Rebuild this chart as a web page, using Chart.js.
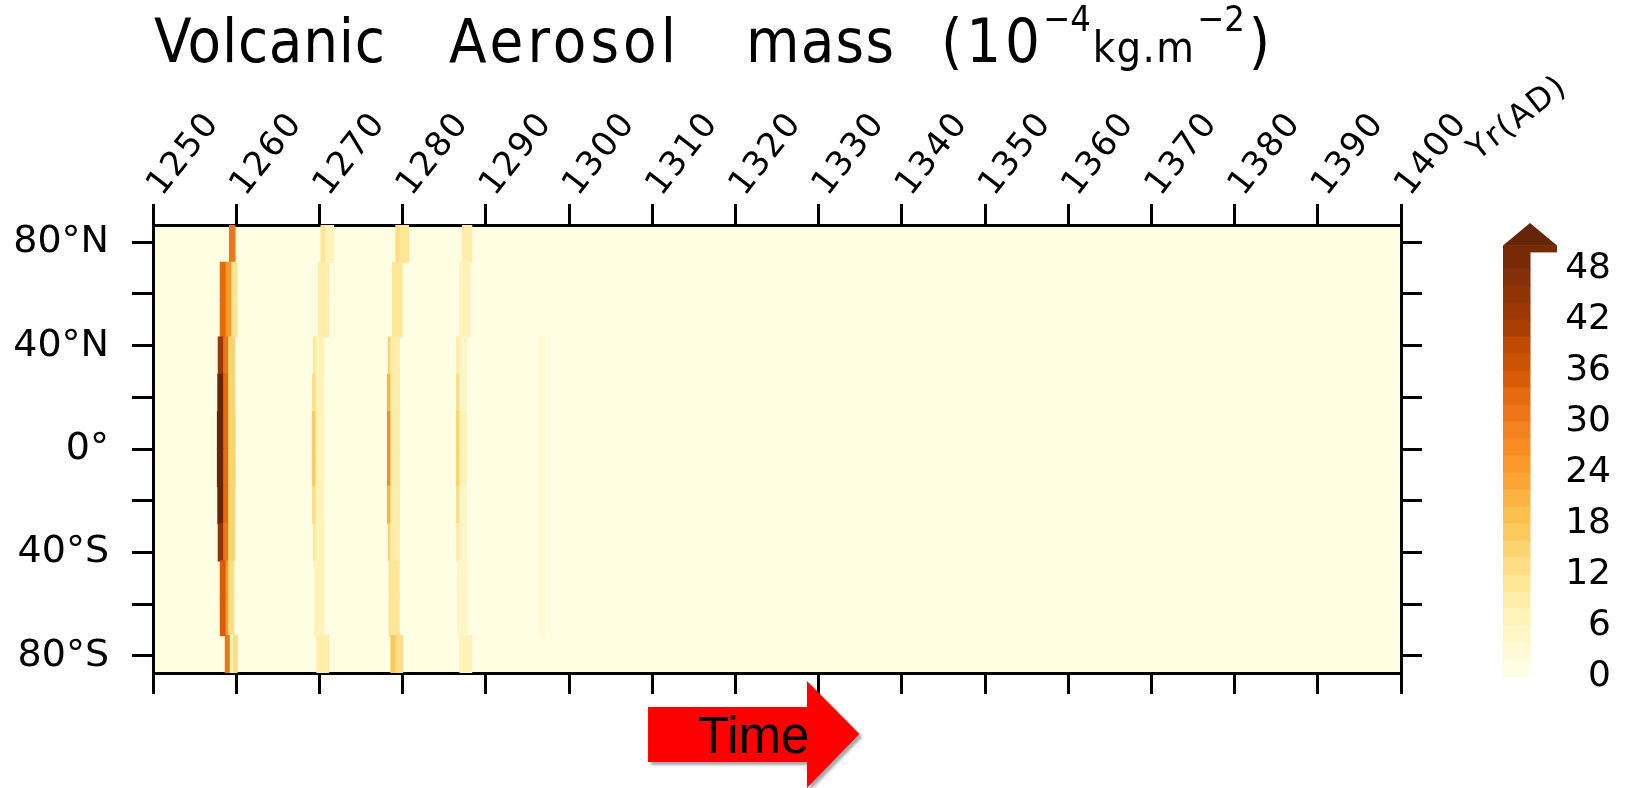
<!DOCTYPE html>
<html><head><meta charset="utf-8">
<script src="https://cdn.jsdelivr.net/npm/chart.js@4.4.1/dist/chart.umd.min.js"></script>
<style>
html,body{margin:0;padding:0;background:#fff;overflow:hidden}
#wrap{position:relative;width:1630px;height:788px}
#main{position:absolute;left:0;top:0}
#cbar{position:absolute;left:1480px;top:200px}
</style></head><body>
<div id="wrap"><canvas id="main" width="1630" height="788"></canvas><canvas id="cbar" width="150" height="500"></canvas></div>
<script>
// ---------- DATA ----------
const yearTicks = [1250,1260,1270,1280,1290,1300,1310,1320,1330,1340,1350,1360,1370,1380,1390,1400];
const yearTickLabels = ['1250','1260','1270','1280','1290','1300','1310','1320','1330','1340','1350','1360','1370','1380','1390','1400'];
const latTicks = [-80,-60,-40,-20,0,20,40,60,80];
const latTickLabels = ['80°S','','40°S','','0°','','40°N','','80°N'];
// latitude band centres (12 bands, south -> north)
const latCenters = [-79.475,-65.025,-50.575,-36.125,-21.675,-7.225,7.225,21.675,36.125,50.575,65.025,79.475];
// rows: [band index, start year, end year, aerosol mass (1e-4 kg/m2)]
const eruption1257 = [
  [11,1259.2,1259.85,30],
  [10,1258.1,1258.8,32],[10,1258.8,1259.5,24],[10,1259.5,1260.1,10],
  [9,1258.1,1258.8,32],[9,1258.8,1259.5,24],[9,1259.5,1260.1,10],
  [8,1257.85,1258.5,42],[8,1258.5,1259.1,30],[8,1259.1,1259.8,14],
  [7,1257.8,1258.5,52],[7,1258.5,1259.1,32],[7,1259.1,1259.8,14],
  [6,1257.75,1258.5,56],[6,1258.5,1259.1,32],[6,1259.1,1259.85,14],
  [5,1257.75,1258.5,56],[5,1258.5,1259.1,32],[5,1259.1,1259.85,14],
  [4,1257.8,1258.5,52],[4,1258.5,1259.1,32],[4,1259.1,1259.8,14],
  [3,1257.85,1258.5,44],[3,1258.5,1259.1,30],[3,1259.1,1259.8,14],
  [2,1258.1,1258.8,34],[2,1258.8,1259.1,24],[2,1259.1,1259.7,12],
  [1,1258.1,1258.8,34],[1,1258.8,1259.1,24],[1,1259.1,1259.7,12],
  [0,1258.7,1259.3,30],[0,1259.3,1259.7,6],[0,1259.7,1260.1,12]
];
const eruption1269 = [
  [11,1270.2,1270.8,10],[11,1270.8,1271.7,7],
  [10,1269.9,1271.1,8],[9,1269.9,1271.1,8],
  [8,1269.3,1269.6,10],[8,1269.6,1270.5,6],
  [7,1269.2,1269.6,12],[7,1269.6,1270.5,6],
  [6,1269.2,1269.6,16],[6,1269.6,1270.5,7],
  [5,1269.2,1269.6,16],[5,1269.6,1270.5,7],
  [4,1269.2,1269.6,12],[4,1269.6,1270.5,6],
  [3,1269.3,1269.6,10],[3,1269.6,1270.5,6],
  [2,1269.4,1270.5,7],[1,1269.4,1270.5,7],
  [0,1269.7,1271.1,9]
];
const eruption1278 = [
  [11,1279.2,1279.7,12],[11,1279.7,1280.7,10],
  [10,1278.8,1279.9,10],[9,1278.8,1279.9,10],
  [8,1278.3,1278.6,14],[8,1278.6,1279.6,8],
  [7,1278.2,1278.6,20],[7,1278.6,1279.6,8],
  [6,1278.2,1278.6,26],[6,1278.6,1279.6,9],
  [5,1278.2,1278.6,26],[5,1278.6,1279.6,9],
  [4,1278.2,1278.6,20],[4,1278.6,1279.6,8],
  [3,1278.3,1278.6,14],[3,1278.6,1279.6,8],
  [2,1278.4,1279.6,10],[1,1278.4,1279.6,10],
  [0,1278.6,1279.2,16],[0,1279.2,1280.0,12]
];
const eruption1286 = [
  [11,1287.2,1288.3,8],
  [10,1286.9,1288.1,6],[9,1286.9,1288.1,6],
  [8,1286.5,1286.9,9],[8,1286.9,1287.7,5],
  [7,1286.5,1286.9,13],[7,1286.9,1287.7,5],
  [6,1286.5,1286.9,14],[6,1286.9,1287.7,6],
  [5,1286.5,1286.9,14],[5,1286.9,1287.7,6],
  [4,1286.5,1286.9,13],[4,1286.9,1287.7,5],
  [3,1286.5,1286.9,9],[3,1286.9,1287.7,5],
  [2,1286.6,1287.8,5],[1,1286.6,1287.8,5],
  [0,1286.9,1288.3,6]
];
const eruption1296 = [
  [8,1296.4,1297.1,3],[7,1296.4,1297.1,3],[6,1296.4,1297.1,3],[5,1296.4,1297.1,3],
  [4,1296.4,1297.1,3],[3,1296.4,1297.1,3],[2,1296.4,1297.1,3],[1,1296.4,1297.1,3]
];
const eruptionNames = ['1257','1268','1276','1284','1295'];
// colour bar
const cbLevels = [0,2,4,6,8,10,12,14,16,18,20,22,24,26,28,30,32,34,36,38,40,42,44,46,48,50];
const cbTicks = [0,6,12,18,24,30,36,42,48];
const cbTickLabels = ['0','6','12','18','24','30','36','42','48'];
// title words: [text, left x, right x]
const titleWords = [['Volcanic',154,385],['Aerosol',449,676],['mass',746,894],['(10',941,1040]];
const axisTitle = 'Yr(AD)';

// ---------- STYLE ----------
const cbColours = ['#fffde2','#fffad5','#fff6c8','#fff3ba','#feeea9','#fee697','#fedd84','#fdd370','#fdc95c','#fcc04e',
  '#fcb342','#fca534','#fb9a2a','#f98d24','#f48220','#ee7518','#e56a10','#d85c08','#cc5204','#c04a02',
  '#a93e03','#9c3804','#903406','#833008','#782a07'];
const overColour = '#672508';
const FONT = '"DejaVu Sans", "Liberation Sans", sans-serif';
const TITLEFAM = '"Liberation Sans Narrow", "DejaVu Sans Condensed", "Liberation Sans", sans-serif';
function colourFor(v){
  if (v >= cbLevels[cbLevels.length-1]) return overColour;
  for (let i = cbLevels.length-2; i >= 0; i--) if (v >= cbLevels[i]) return cbColours[i];
  return cbColours[0];
}
Chart.defaults.color = '#000';
Chart.defaults.font.family = FONT;

const bgPlugin = {
  id:'bg',
  beforeDraw(chart){
    const {ctx, chartArea:a} = chart;
    ctx.save(); ctx.fillStyle = cbColours[0];
    ctx.fillRect(a.left, a.top, a.right-a.left, a.bottom-a.top); ctx.restore();
  }
};
function fitText(ctx, txt, x0, x1, y){
  const w = ctx.measureText(txt).width;
  const n = [...txt].length;
  if ('letterSpacing' in ctx && n > 1) {
    const ls = (x1 - x0 - w) / (n - 1);
    ctx.letterSpacing = ls + 'px';
    ctx.fillText(txt, x0, y);
    ctx.letterSpacing = '0px';
  } else {
    ctx.save(); ctx.translate(x0, y); ctx.scale((x1-x0)/w, 1); ctx.fillText(txt, 0, 0); ctx.restore();
  }
}
function rotText(ctx, txt, x, y, deg, spacing){
  ctx.save();
  ctx.translate(x, y); ctx.rotate(-deg*Math.PI/180);
  if ('letterSpacing' in ctx) ctx.letterSpacing = spacing + 'px';
  ctx.fillText(txt, 0, 0);
  ctx.restore();
}
const decorPlugin = {
  id:'decor',
  afterDraw(chart){
    const ctx = chart.ctx, xs = chart.scales.x, a = chart.chartArea;
    // Title
    ctx.save();
    const mainF = '61px ' + TITLEFAM, supF = '36px ' + TITLEFAM, smallF = '43px ' + TITLEFAM;
    const base = 62;
    ctx.fillStyle = '#000'; ctx.textBaseline = 'alphabetic'; ctx.textAlign = 'left';
    ctx.font = mainF;
    titleWords.forEach(w => fitText(ctx, w[0], w[1], w[2], base));
    let x = titleWords[titleWords.length-1][2] + 3;
    ctx.font = supF; ctx.fillText('−4', x, base - 31); x += ctx.measureText('−4').width + 2;
    ctx.font = smallF; fitText(ctx, 'kg.m', x, 1194, base); x = 1197;
    ctx.font = supF; ctx.fillText('−2', x, base - 31); x += ctx.measureText('−2').width + 4;
    ctx.font = mainF; ctx.fillText(')', x, base);
    ctx.restore();
    // Top axis tick labels (rotated, spaced like the original font)
    ctx.save();
    ctx.fillStyle = '#000'; ctx.textAlign = 'left'; ctx.textBaseline = 'alphabetic';
    ctx.font = '34px ' + FONT;
    const ly = xs.bottom - 28;
    yearTicks.forEach((v,i) => rotText(ctx, yearTickLabels[i], xs.getPixelForValue(v) + 9, ly, 52, 2));
    // axis title beyond 1400
    ctx.font = '32px ' + FONT;
    rotText(ctx, axisTitle, xs.getPixelForValue(1409.2), xs.bottom - 64, 38, 2);
    ctx.restore();
    // Time arrow
    const bx0 = xs.getPixelForValue(1309.5), bx1 = xs.getPixelForValue(1328.6), tip = xs.getPixelForValue(1334.9);
    const b = a.bottom;
    ctx.save();
    ctx.shadowColor = 'rgba(0,0,0,0.35)'; ctx.shadowOffsetX = 3; ctx.shadowOffsetY = 3; ctx.shadowBlur = 3;
    ctx.fillStyle = '#ff0000';
    ctx.beginPath();
    ctx.moveTo(bx0, b+34); ctx.lineTo(bx1, b+34); ctx.lineTo(bx1, b+8); ctx.lineTo(tip, b+61);
    ctx.lineTo(bx1, b+115); ctx.lineTo(bx1, b+89); ctx.lineTo(bx0, b+89); ctx.closePath(); ctx.fill();
    ctx.restore();
    ctx.save();
    ctx.fillStyle = '#000'; ctx.font = '51px "Liberation Sans", Arial, sans-serif';
    ctx.textAlign = 'left'; ctx.textBaseline = 'alphabetic';
    ctx.fillText('Time', xs.getPixelForValue(1315.5), b+80);
    ctx.restore();
  }
};

const gridOpt = {drawOnChartArea:false, drawTicks:true, tickLength:21, lineWidth:3, color:'#000', offset:false};
const borderOpt = {display:true, width:3, color:'#000'};
const setYearTicks = s => { s.ticks = yearTicks.map(v=>({value:v})); };
const setLatTicks = s => { s.ticks = latTicks.map(v=>({value:v})); };
const noPad = s => { s.paddingLeft = 0; s.paddingRight = 0; s.paddingTop = 0; s.paddingBottom = 0; };

new Chart(document.getElementById('main'), {
  type:'bar',
  data:{
    datasets:[eruption1257, eruption1269, eruption1278, eruption1286, eruption1296].map((rows,k)=>({
      label: eruptionNames[k],
      data: rows.map(r=>({y: latCenters[r[0]], x:[r[1], r[2]], v:r[3]})),
      xAxisID:'x', yAxisID:'y',
      grouped:false, barPercentage:1, categoryPercentage:1, borderWidth:0, inflateAmount:0.6,
      backgroundColor: c => (c.raw ? colourFor(c.raw.v) : cbColours[0])
    }))
  },
  options:{
    indexAxis:'y', responsive:false, animation:false, events:[],
    layout:{padding:0},
    plugins:{legend:{display:false}, tooltip:{enabled:false}, title:{display:false}},
    scales:{
      x:{type:'linear', position:'top', min:1250, max:1400, z:1, offset:false,
         afterBuildTicks:setYearTicks, afterFit:s=>{noPad(s); s.height=225;},
         ticks:{display:false, autoSkip:false, callback:(v,i)=>yearTickLabels[i]},
         grid:gridOpt, border:borderOpt},
      x2:{type:'linear', position:'bottom', min:1250, max:1400, z:1, offset:false,
         afterBuildTicks:setYearTicks, afterFit:s=>{noPad(s); s.height=115;},
         ticks:{display:false}, grid:gridOpt, border:borderOpt},
      y:{type:'linear', position:'left', min:-86.7, max:86.7, z:1, offset:false,
         afterBuildTicks:setLatTicks, afterFit:s=>{noPad(s); s.width=153;},
         ticks:{autoSkip:false, padding:23, color:'#000', font:{family:FONT, size:38}, callback:(v,i)=>latTickLabels[i]},
         grid:gridOpt, border:borderOpt},
      y2:{type:'linear', position:'right', min:-86.7, max:86.7, z:1, offset:false,
         afterBuildTicks:setLatTicks, afterFit:s=>{noPad(s); s.width=229;},
         ticks:{display:false}, grid:gridOpt, border:borderOpt}
    }
  },
  plugins:[bgPlugin, decorPlugin]
});

const overPlugin = {
  id:'over',
  afterDatasetsDraw(chart){
    const ctx = chart.ctx, ys = chart.scales.y, a = chart.chartArea;
    const y50 = ys.getPixelForValue(cbLevels[cbLevels.length-1]);
    const yb = ys.getPixelForValue(50.8);
    ctx.save();
    ctx.fillStyle = cbColours[cbColours.length-1];
    ctx.fillRect(a.left, yb, a.right-a.left, y50-yb+0.5);
    ctx.fillStyle = overColour;
    ctx.beginPath(); ctx.moveTo(a.left, yb+0.5); ctx.lineTo(a.right, yb+0.5); ctx.lineTo((a.left+a.right)/2, a.top); ctx.closePath(); ctx.fill();
    ctx.restore();
  }
};
new Chart(document.getElementById('cbar'), {
  type:'bar',
  data:{labels:[''], datasets: cbColours.map((c,i)=>({
    data:[[cbLevels[i], cbLevels[i+1]]], backgroundColor:c, grouped:false,
    barPercentage:1, categoryPercentage:1, borderWidth:0, inflateAmount:0.5}))},
  options:{
    responsive:false, animation:false, events:[],
    layout:{padding:{left:23, top:23, bottom:23, right:19}},
    plugins:{legend:{display:false}, tooltip:{enabled:false}},
    scales:{
      x:{display:false, offset:false},
      y:{position:'right', min:0, max:53.4, afterBuildTicks:s=>{s.ticks = cbTicks.map(v=>({value:v}));},
         afterFit:s=>{noPad(s); s.width=54;}, grid:{display:false, drawTicks:false, tickLength:0}, border:{display:false},
         ticks:{crossAlign:'far', padding:0, color:'#000', font:{family:FONT, size:36}, callback:(v,i)=>cbTickLabels[i]}}
    }
  },
  plugins:[overPlugin]
});
</script>
</body></html>
